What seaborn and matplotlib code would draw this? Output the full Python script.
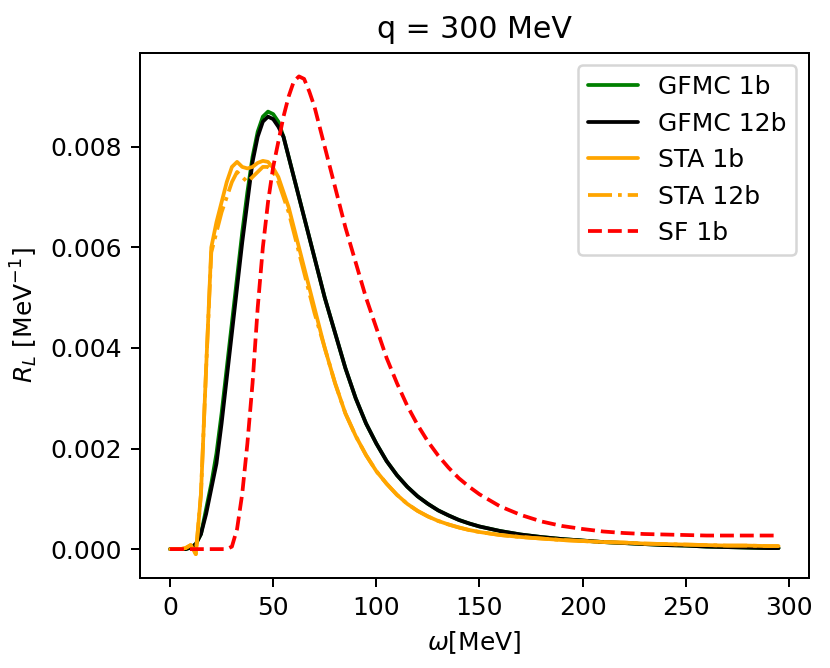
import numpy as np
import pandas as pd
import matplotlib
matplotlib.use("Agg")
import matplotlib.pyplot as plt
import seaborn as sns

omega = [0, 2.5, 5, 7.5, 10, 12.5, 15, 17.5, 20, 22.5, 25, 27.5, 30, 32.5, 35, 37.5,
         40, 42.5, 45, 47.5, 50, 52.5, 55, 57.5, 60, 62.5, 65, 67.5, 70,
         75, 80, 85, 90, 95, 100, 105, 110, 115, 120, 125, 130, 135, 140, 145, 150,
         160, 170, 180, 190, 200, 210, 220, 230, 240, 250, 260, 270, 280, 290, 295]

gfmc_12b = [0, 0, 0, 0, 0.00003, 0.0001, 0.0003, 0.0007, 0.0012, 0.0017, 0.0025, 0.0034,
            0.0043, 0.0052, 0.0061, 0.0069, 0.0077, 0.0082, 0.0085, 0.0086, 0.00855, 0.0084,
            0.0082, 0.0078, 0.0074, 0.0070, 0.0066, 0.0062, 0.0058,
            0.0050, 0.0043, 0.0036, 0.0030, 0.0025, 0.0021, 0.00175, 0.00147, 0.00124, 0.00105,
            0.0009, 0.00077, 0.00067, 0.00058, 0.00051, 0.00045,
            0.00036, 0.00029, 0.00024, 0.0002, 0.00017, 0.00014, 0.00012, 0.0001, 0.00008,
            0.00007, 0.00005, 0.00004, 0.00003, 0.00002, 0.00002]

gfmc_1b = [0, 0, 0, 0, 0.00003, 0.0001, 0.0003, 0.0008, 0.0013, 0.0019, 0.0027, 0.0036,
           0.0045, 0.0054, 0.0063, 0.0071, 0.0078, 0.0083, 0.0086, 0.0087, 0.00865, 0.0085,
           0.0082, 0.0078, 0.0074, 0.0070, 0.0066, 0.0062, 0.0058,
           0.0050, 0.0043, 0.0036, 0.0030, 0.0025, 0.0021, 0.00175, 0.00147, 0.00124, 0.00105,
           0.0009, 0.00077, 0.00067, 0.00058, 0.00051, 0.00045,
           0.00036, 0.00029, 0.00024, 0.0002, 0.00017, 0.00014, 0.00012, 0.0001, 0.00008,
           0.00007, 0.00005, 0.00004, 0.00003, 0.00002, 0.00002]

sta_1b = [0, 0, 0, 0.00002, 0.00008, -0.0001, 0.0011, 0.0036, 0.0060, 0.0065, 0.0069, 0.0073,
          0.0076, 0.0077, 0.0076, 0.00757, 0.0076, 0.00768, 0.00772, 0.0077, 0.00758, 0.0074,
          0.0071, 0.0068, 0.0064, 0.0060, 0.0056, 0.0052, 0.0048,
          0.0040, 0.0033, 0.0027, 0.00225, 0.00187, 0.00155, 0.0013, 0.00108, 0.0009, 0.00076,
          0.00065, 0.00056, 0.00049, 0.00043, 0.00038, 0.00034,
          0.00028, 0.00024, 0.00021, 0.00018, 0.00016, 0.00014, 0.00013, 0.00011, 0.0001,
          0.00009, 0.00008, 0.00007, 0.00007, 0.00006, 0.00006]

sta_12b = [0, 0, 0, 0.00002, 0.00008, -0.0001, 0.0011, 0.0036, 0.0059, 0.0063, 0.0067, 0.0070,
           0.0073, 0.0075, 0.0074, 0.0073, 0.0074, 0.0075, 0.0076, 0.0076, 0.0075, 0.0073,
           0.0070, 0.0067, 0.0063, 0.0059, 0.0055, 0.0051, 0.0047,
           0.0040, 0.0033, 0.0027, 0.00225, 0.00187, 0.00155, 0.0013, 0.00108, 0.0009, 0.00076,
           0.00065, 0.00056, 0.00049, 0.00043, 0.00038, 0.00034,
           0.00028, 0.00024, 0.00021, 0.00018, 0.00016, 0.00014, 0.00013, 0.00011, 0.0001,
           0.00009, 0.00008, 0.00007, 0.00007, 0.00006, 0.00006]

sf_1b = [0, 0, 0, 0, 0, 0, 0, 0, 0, 0, 0, 0,
         0.00005, 0.0004, 0.0011, 0.0021, 0.0033, 0.0048, 0.0060, 0.0069, 0.0076, 0.0081,
         0.0086, 0.0090, 0.0093, 0.0094, 0.00935, 0.0091, 0.0088,
         0.0080, 0.0072, 0.0064, 0.0057, 0.0050, 0.0044, 0.0038, 0.0033, 0.00285, 0.00247,
         0.00214, 0.00186, 0.00162, 0.00141, 0.00124, 0.00109,
         0.00085, 0.00068, 0.00055, 0.00046, 0.0004, 0.00035, 0.00032, 0.0003, 0.00029,
         0.00028, 0.00027, 0.00027, 0.00027, 0.00027, 0.00027]

series = [
    ("GFMC 1b", gfmc_1b, "green", "-"),
    ("GFMC 12b", gfmc_12b, "black", "-"),
    ("STA 1b", sta_1b, "orange", "-"),
    ("STA 12b", sta_12b, "orange", "-."),
    ("SF 1b", sf_1b, "red", "--"),
]

sns.set_style("ticks", rc={"axes.edgecolor": "black", "xtick.color": "black",
                           "ytick.color": "black", "axes.labelcolor": "black",
                           "text.color": "black"})
plt.rcParams['font.family'] = ['DejaVu Sans']

fig = plt.figure(figsize=(831 / 180, 668 / 180), dpi=180)
ax = fig.add_axes([0.168, 0.1347, 0.9735 - 0.168, 0.9214 - 0.1347])

for name, vals, col, ls in series:
    df = pd.DataFrame({"omega": omega, "R": vals})
    sns.lineplot(data=df, x="omega", y="R", color=col, linestyle=ls, linewidth=1.5,
                 label=name, ax=ax)

ax.set_xticks([0, 50, 100, 150, 200, 250, 300])
ax.set_yticks([0.0, 0.002, 0.004, 0.006, 0.008])
ax.set_xlabel(r'$\omega$[MeV]', fontsize=10)
ax.set_ylabel(r'$R_L$ [MeV$^{-1}$]', fontsize=10)
ax.set_title("q = 300 MeV", fontsize=12)
ax.tick_params(labelsize=10, direction="out", length=3.5, width=0.8)
for s in ax.spines.values():
    s.set_linewidth(0.8)
    s.set_color("black")
ax.legend(loc="upper right", fontsize=10, frameon=True)

fig.savefig("out.png", dpi=180)
